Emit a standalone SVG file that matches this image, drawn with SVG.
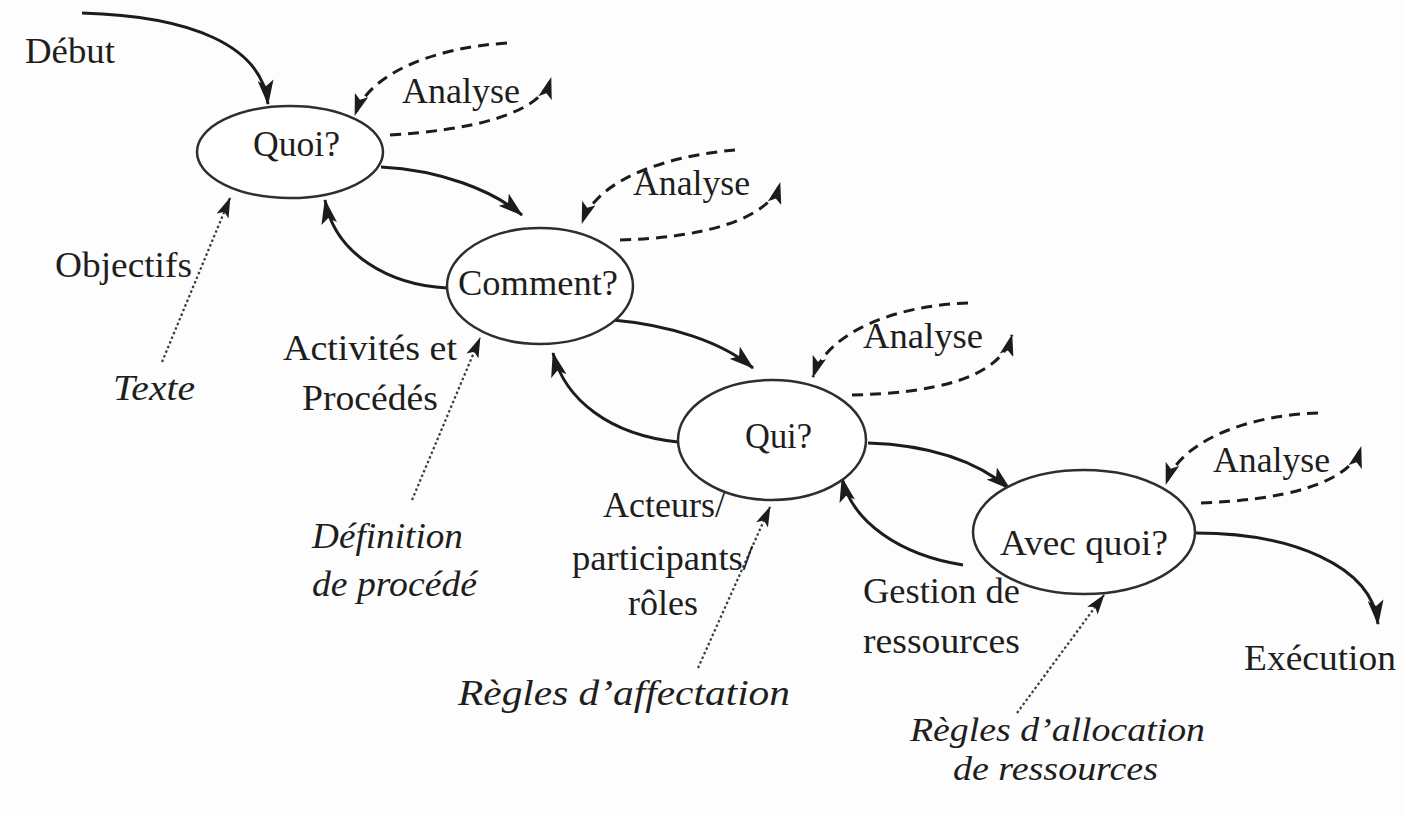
<svg xmlns="http://www.w3.org/2000/svg" width="1406" height="817" viewBox="0 0 1406 817">
<style>
.bg{fill:#fdfdfd}
.node ellipse{fill:#ffffff;stroke:#2e2e2e;stroke-width:2.5}
text{font-family:"Liberation Serif","Times New Roman",serif;font-size:36px;fill:#1e1e1e}
.it{font-style:italic}
.sm{font-size:33px}
.solid{fill:none;stroke:#1c1c1c;stroke-width:3;marker-end:url(#arr)}
.dash{fill:none;stroke:#1c1c1c;stroke-width:3;stroke-dasharray:11 7;marker-end:url(#arrs)}
.dot{fill:none;stroke:#3a3a3a;stroke-width:2.2;stroke-dasharray:2.5 2.5;marker-end:url(#arrd)}
</style>
<defs>
<marker id="arr" viewBox="0 0 22 14" refX="21" refY="7" markerWidth="25" markerHeight="16" markerUnits="userSpaceOnUse" orient="auto">
<path d="M0,0 L22,7 L0,14 L5,7 z" fill="#1c1c1c"/>
</marker>
<marker id="arrs" viewBox="0 0 22 14" refX="21" refY="7" markerWidth="22" markerHeight="14" markerUnits="userSpaceOnUse" orient="auto">
<path d="M0,0 L22,7 L0,14 L5,7 z" fill="#1c1c1c"/>
</marker>
<marker id="arrd" viewBox="0 0 22 14" refX="21" refY="7" markerWidth="21" markerHeight="13" markerUnits="userSpaceOnUse" orient="auto">
<path d="M0,0 L22,7 L0,14 L5,7 z" fill="#1c1c1c"/>
</marker>
</defs>
<rect class="bg" x="0" y="0" width="1406" height="817"/>

<g id="connectors">
<path class="solid" d="M82,13 C190,16 262,45 268,104"/>
<path class="solid" d="M381,167 C440,170 492,190 522,215"/>
<path class="solid" d="M447,288 C390,285 335,255 325,200"/>
<path class="solid" d="M613,320 C670,325 722,342 753,368"/>
<path class="solid" d="M678,442 C610,435 565,400 553,353"/>
<path class="solid" d="M868,443 C930,445 978,462 1010,489"/>
<path class="solid" d="M963,565 C900,555 852,522 842,478"/>
<path class="solid" d="M1196,533 C1290,533 1372,565 1378,624"/>
<path class="dash" d="M507,43 C430,48 368,75 355,115"/>
<path class="dash" d="M390,135 C470,130 540,115 551,78"/>
<path class="dash" d="M735,150 C675,155 598,176 582,223"/>
<path class="dash" d="M620,240 C700,238 770,220 780,183"/>
<path class="dash" d="M968,303 C900,305 828,330 813,377"/>
<path class="dash" d="M852,395 C930,393 1000,380 1012,335"/>
<path class="dash" d="M1318,413 C1250,415 1180,440 1166,484"/>
<path class="dash" d="M1201,503 C1280,500 1350,485 1361,447"/>
<path class="dot" d="M162,362 L230,198"/>
<path class="dot" d="M412,500 L480,338"/>
<path class="dot" d="M698,668 L770,507"/>
<path class="dot" d="M1017,713 L1104,595"/>
</g>

<g id="node-quoi" class="node">
<ellipse cx="290" cy="152" rx="93" ry="46"/>
<text x="253" y="156" textLength="87" lengthAdjust="spacingAndGlyphs">Quoi?</text>
</g>
<g id="node-comment" class="node">
<ellipse cx="540" cy="286" rx="93" ry="58"/>
<text x="458" y="295" textLength="160" lengthAdjust="spacingAndGlyphs">Comment?</text>
</g>
<g id="node-qui" class="node">
<ellipse cx="772" cy="440" rx="94" ry="60"/>
<text x="745" y="448" textLength="67" lengthAdjust="spacingAndGlyphs">Qui?</text>
</g>
<g id="node-avec" class="node">
<ellipse cx="1084" cy="532" rx="111" ry="62"/>
<text x="1000" y="555" textLength="168" lengthAdjust="spacingAndGlyphs">Avec quoi?</text>
</g>

<g id="labels">
<text x="25" y="63" textLength="90" lengthAdjust="spacingAndGlyphs">Début</text>
<text x="402" y="103" textLength="118" lengthAdjust="spacingAndGlyphs">Analyse</text>
<text x="633" y="195" textLength="117" lengthAdjust="spacingAndGlyphs">Analyse</text>
<text x="863" y="348" textLength="120" lengthAdjust="spacingAndGlyphs">Analyse</text>
<text x="1213" y="472" textLength="117" lengthAdjust="spacingAndGlyphs">Analyse</text>
<text x="55" y="277" textLength="137" lengthAdjust="spacingAndGlyphs">Objectifs</text>
<text class="it" x="113" y="400" textLength="82" lengthAdjust="spacingAndGlyphs">Texte</text>
<text x="283" y="360" textLength="174" lengthAdjust="spacingAndGlyphs">Activités et</text>
<text x="302" y="410" textLength="136" lengthAdjust="spacingAndGlyphs">Procédés</text>
<text class="it" x="312" y="548" textLength="151" lengthAdjust="spacingAndGlyphs">Définition</text>
<text class="it" x="312" y="596" textLength="165" lengthAdjust="spacingAndGlyphs">de procédé</text>
<text x="603" y="517" textLength="122" lengthAdjust="spacingAndGlyphs">Acteurs/</text>
<text x="572" y="570" textLength="181" lengthAdjust="spacingAndGlyphs">participants/</text>
<text x="628" y="615" textLength="70" lengthAdjust="spacingAndGlyphs">rôles</text>
<text class="it" x="458" y="705" textLength="332" lengthAdjust="spacingAndGlyphs">Règles d’affectation</text>
<text x="863" y="603" textLength="157" lengthAdjust="spacingAndGlyphs">Gestion de</text>
<text x="863" y="653" textLength="157" lengthAdjust="spacingAndGlyphs">ressources</text>
<text x="1244" y="670" textLength="152" lengthAdjust="spacingAndGlyphs">Exécution</text>
<text class="it sm" x="910" y="741" textLength="295" lengthAdjust="spacingAndGlyphs">Règles d’allocation</text>
<text class="it sm" x="953" y="780" textLength="205" lengthAdjust="spacingAndGlyphs">de ressources</text>
</g>
</svg>
